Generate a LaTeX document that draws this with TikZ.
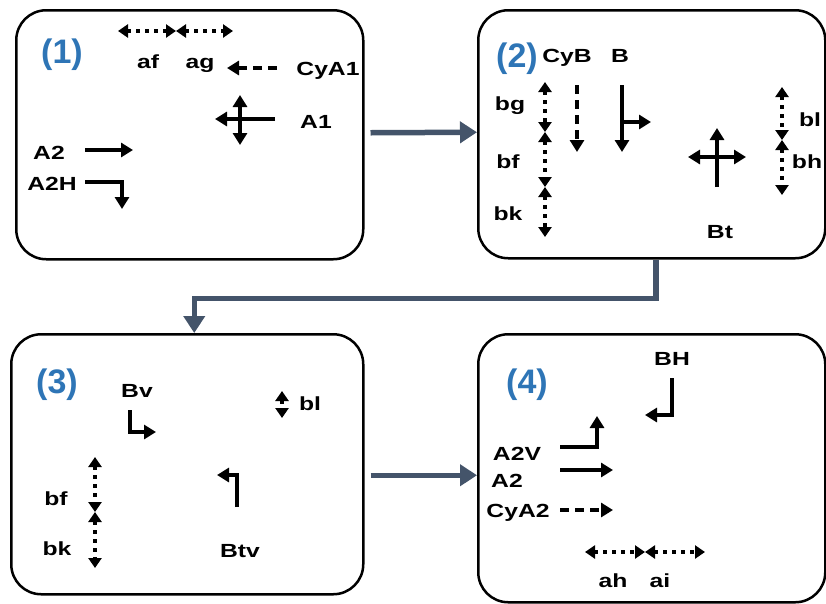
\documentclass[tikz,border=0pt]{standalone}
\usepackage{fontspec}
\setmainfont{Liberation Sans}
\usetikzlibrary{arrows.meta}
\definecolor{conn}{HTML}{44546A}
\definecolor{numblue}{HTML}{2E75B6}
\newcommand{\wtx}[1]{\scalebox{1.3}[1]{#1}}
\begin{document}
\begin{tikzpicture}[x=1pt,y=-1pt,
  box/.style={draw=black, line width=2.5pt, rounded corners=30pt, inner sep=0pt, anchor=north west},
  conn/.style={draw=conn, line width=5.5pt, -{Triangle[length=17pt,width=21pt]}},
  num/.style={text=numblue, font=\bfseries\fontsize{34}{34}\selectfont, inner sep=0pt},
  lab/.style={font=\bfseries\fontsize{19}{19}\selectfont, inner sep=0pt, anchor=base},
  sa/.style={line width=4pt, -{Triangle[length=12pt,width=14pt]}},
  sab/.style={line width=4pt, {Triangle[length=12pt,width=14pt]}-{Triangle[length=12pt,width=14pt]}},
  dsh/.style={line width=4pt, dash pattern=on 9pt off 6pt, -{Triangle[length=12pt,width=14pt]}},
  dd/.style={line width=4pt, dash pattern=on 4pt off 5pt, {Triangle[length=10pt,width=13pt]}-{Triangle[length=10pt,width=13pt]}}]
\useasboundingbox (0,0) rectangle (826,603);
% boxes
\node[box, minimum width=347pt, minimum height=249pt] (b1) at (15,9) {};
\node[box, minimum width=347pt, minimum height=248pt] (b2) at (477,9) {};
\node[box, minimum width=352pt, minimum height=260pt] (b3) at (10,333) {};
\node[box, minimum width=347pt, minimum height=268pt] (b4) at (477,333) {};
% connectors
\draw[conn] ([xshift=6pt,yshift=2pt]b1.east) -- ([yshift=2pt]b2.west);
\draw[conn] ([xshift=4pt]b2.south) -- ++(0,39) -| ([xshift=7pt]b3.north);
\draw[conn] ([xshift=6pt,yshift=-11pt]b3.east) -- ([yshift=-11pt]b3.east -| b4.west);
% box 1
\node[num] (n1) at (62,55) {(1)};
\draw[dd] (118,31) -- (176,31);
\draw[dd] (176,31) -- (233,31);
\node[lab] (af) at (148,68) {\wtx{af}};
\node[lab] (ag) at (200,68) {\wtx{ag}};
\draw[dsh] (277,68) -- (227,68);
\node[lab] (cya1) at (328,75) {\wtx{CyA1}};
\draw[sa] (275,119) -- (215,119);
\draw[sab] (240,95) -- (240,145);
\node[lab] (a1) at (316,128) {\wtx{A1}};
\node[lab] (a2) at (49,159) {\wtx{A2}};
\draw[sa] (85,150) -- (133,150);
\node[lab] (a2h) at (52,190) {\wtx{A2H}};
\draw[sa] (85,182) -- (122,182) -- (122,209);
% box 2
\node[num] (n2) at (517,59) {(2)};
\node[lab] (cyb) at (567,62) {\wtx{CyB}};
\node[lab] (bb) at (620,62) {\wtx{B}};
\draw[dd] (545,82) -- (545,132);
\draw[dd] (545,132) -- (545,187);
\draw[dd] (545,187) -- (545,237);
\node[lab] (bg) at (510,110) {\wtx{bg}};
\node[lab] (bf) at (508,168) {\wtx{bf}};
\node[lab] (bk) at (508,220) {\wtx{bk}};
\draw[dsh] (577,85) -- (577,152);
\draw[sa] (622,85) -- (622,152);
\draw[sa] (622,122) -- (651,122);
\draw[sa] (717,187) -- (717,128);
\draw[sab] (688,157) -- (746,157);
\node[lab] (bt) at (720,238) {\wtx{Bt}};
\draw[dd] (782,87) -- (782,140);
\draw[dd] (782,140) -- (782,195);
\node[lab] (bl) at (810,126) {\wtx{bl}};
\node[lab] (bh) at (807,168) {\wtx{bh}};
% box 3
\node[num] (n3) at (57,385) {(3)};
\node[lab] (bv) at (137,397) {\wtx{Bv}};
\draw[sa] (130,410) -- (130,432) -- (156,432);
\draw[dd] (282,391) -- (282,418);
\node[lab] (bl3) at (310,410) {\wtx{bl}};
\draw[dd] (95,457) -- (95,512);
\draw[dd] (95,512) -- (95,568);
\node[lab] (bf3) at (56,505) {\wtx{bf}};
\node[lab] (bk3) at (57,555) {\wtx{bk}};
\draw[sa] (237,507) -- (237,475) -- (217,475);
\node[lab] (btv) at (240,557) {\wtx{Btv}};
% box 4
\node[num] (n4) at (527,385) {(4)};
\node[lab] (bh4) at (672,365) {\wtx{BH}};
\draw[sa] (672,378) -- (672,415) -- (645,415);
\node[lab] (a2v) at (517,460) {\wtx{A2V}};
\draw[sa] (560,447) -- (597,447) -- (597,416);
\node[lab] (a24) at (507,487) {\wtx{A2}};
\draw[sa] (560,470) -- (613,470);
\node[lab] (cya2) at (518,517) {\wtx{CyA2}};
\draw[dsh] (560,510) -- (613,510);
\draw[dd] (585,552) -- (645,552);
\draw[dd] (645,552) -- (705,552);
\node[lab] (ah) at (613,587) {\wtx{ah}};
\node[lab] (ai) at (660,587) {\wtx{ai}};
\end{tikzpicture}
\end{document}
